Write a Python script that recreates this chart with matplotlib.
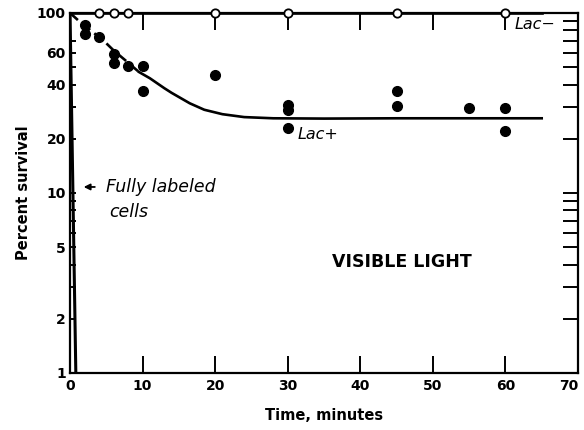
import matplotlib
matplotlib.use("Agg")
import matplotlib.pyplot as plt

# Data
lac_plus_t = [2, 2, 4, 6, 6, 8, 10, 10, 20, 30, 30, 30, 45, 45, 55, 60, 60]
lac_plus_s = [86, 76, 74, 59, 53, 51, 51, 37, 45, 31, 29, 23, 37, 30.5, 29.5, 29.5, 22]

lac_minus_t = [4, 6, 8, 20, 30, 45, 60]
lac_minus_s = [100, 100, 100, 100, 100, 100, 100]

# fitted curve for Lac+ (dashed early part, solid later part)
curve_dash_t = [0, 1.4, 3, 4.5, 6, 8, 9.5]
curve_dash_s = [100, 89, 79, 71, 62, 53, 47]
curve_solid_t = [9.5, 11, 13, 14, 16.5, 18.5, 21, 24, 28, 35, 45, 55, 65]
curve_solid_s = [47, 43.4, 38.2, 36, 31.5, 29, 27.4, 26.4, 26, 25.9, 26, 26, 26]

# Lac- line
lac_minus_line_t = [0, 65]
lac_minus_line_s = [100, 100]

# fully labeled cells
full_t = [0, 0.8]
full_s = [100, 1]

x_ticks = [0, 10, 20, 30, 40, 50, 60, 70]
y_major = [1, 2, 5, 10, 20, 40, 60, 100]
y_minor = [3, 4, 6, 7, 8, 9, 30, 50, 70]
y_right = [2, 3, 4, 5, 6, 7, 8, 9, 10, 20, 30, 40, 50, 60, 70, 80, 90]

fig = plt.figure(figsize=(5.84, 4.30), dpi=100)
ax = fig.add_axes([0.1199, 0.1326, 0.8698, 0.8372])
ax.set_yscale('log')
ax.set_xlim(0, 70)
ax.set_ylim(1, 100)

lw = 1.9
ax.plot(lac_minus_line_t, lac_minus_line_s, color='black', lw=lw, zorder=3, clip_on=False)
ax.plot(curve_dash_t, curve_dash_s, color='black', lw=lw, ls=(0, (4, 2)), zorder=3)
ax.plot(curve_solid_t, curve_solid_s, color='black', lw=lw, zorder=3)
ax.plot(full_t, full_s, color='black', lw=2.2, zorder=3)

ax.plot(lac_plus_t, lac_plus_s, 'o', color='black', ms=7, zorder=4)
ax.plot(lac_minus_t, lac_minus_s, 'o', mfc='white', mec='black', mew=1.3,
        ms=6, zorder=5, clip_on=False)

for s in ax.spines.values():
    s.set_linewidth(1.6)

ax.set_xticks(x_ticks)
ax.set_xticklabels([str(v) for v in x_ticks])
ax.set_yticks(y_major)
ax.set_yticklabels([str(v) for v in y_major])
ax.set_yticks(y_minor, minor=True)
ax.yaxis.set_minor_formatter(matplotlib.ticker.NullFormatter())

ax.tick_params(axis='x', which='major', direction='in', length=12, width=1.4,
               top=True, bottom=True, pad=4)
ax.tick_params(axis='y', which='both', direction='in', length=4, width=1.4,
               left=True, right=False, pad=3)

for lab in ax.get_xticklabels() + ax.get_yticklabels():
    lab.set_fontweight('bold')
    lab.set_fontsize(10)
ax.get_xticklabels()[-1].set_horizontalalignment('right')

ax2 = ax.twinx()
ax2.set_yscale('log')
ax2.set_ylim(1, 100)
ax2.set_yticks(y_right)
ax2.set_yticks([], minor=True)
ax2.set_yticklabels([])
ax2.tick_params(axis='y', which='major', direction='in', length=10.5, width=1.4)
for s in ax2.spines.values():
    s.set_visible(False)

ax.set_xlabel('Time, minutes', fontsize=10.5, fontweight='bold', labelpad=11)
ax.set_ylabel('Percent survival', fontsize=10.5, fontweight='bold', labelpad=4)

ax.annotate('', xy=(1.5, 10.8), xytext=(3.8, 10.8),
            arrowprops=dict(arrowstyle='-|>', color='black', lw=1.3,
                            mutation_scale=9))
ax.text(5.0, 10.8, 'Fully labeled', fontsize=12.5, style='italic',
        ha='left', va='center')
ax.text(5.4, 7.85, 'cells', fontsize=12.5, style='italic', ha='left', va='center')
ax.text(61.3, 86, 'Lac\u2212', fontsize=11.5, style='italic', ha='left', va='center')
ax.text(31.3, 21, 'Lac+', fontsize=11.5, style='italic', ha='left', va='center')
ax.text(45.8, 4.14, 'VISIBLE LIGHT', fontsize=12.5, fontweight='bold',
        ha='center', va='center')

fig.savefig('out.png', dpi=100)
